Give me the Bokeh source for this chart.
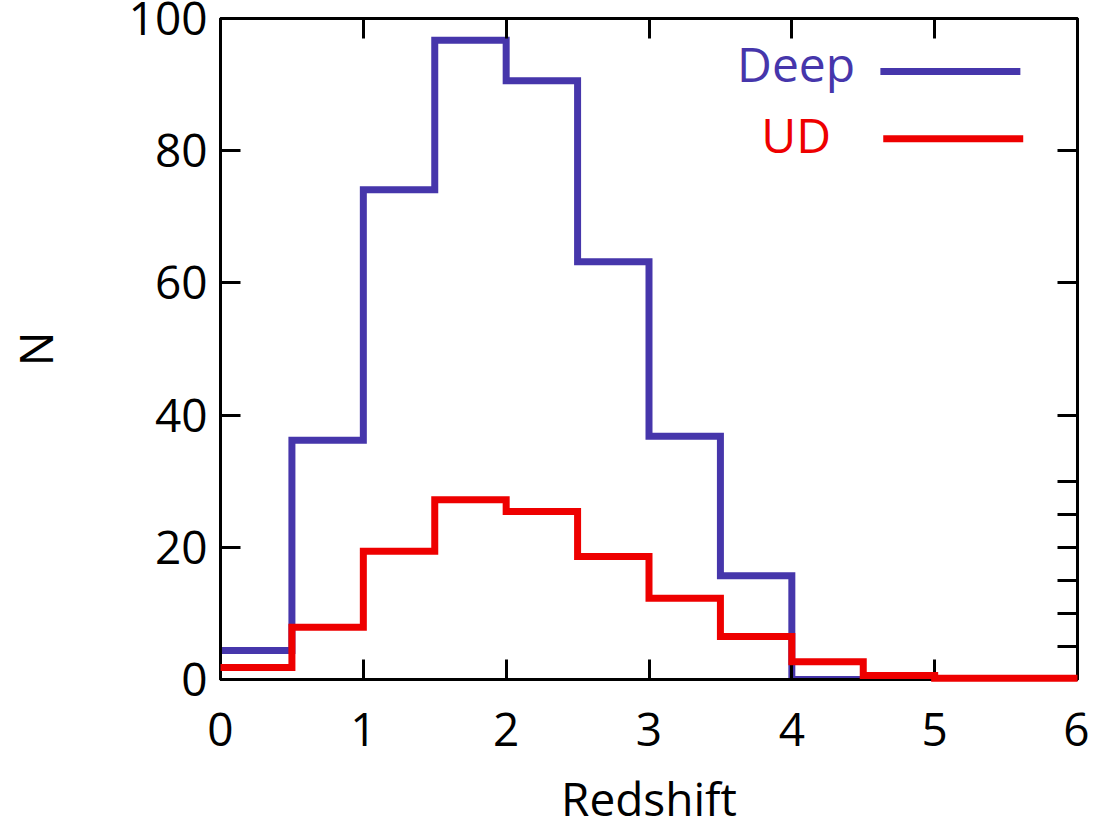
from bokeh.plotting import figure
from bokeh.models import LinearAxis, Range1d, FixedTicker
from bokeh.core.properties import value
from bokeh.embed import file_html
from bokeh.resources import INLINE

# Histogram bin edges (redshift) and counts
bin_edges = [0.0, 0.5, 1.0, 1.5, 2.0, 2.5, 3.0, 3.5, 4.0, 4.5, 5.0, 5.5, 6.0]
deep_counts = [4.4, 36.2, 74.1, 96.7, 90.6, 63.2, 36.8, 15.7, 0.0, 0.0, 0.0, 0.0]
ud_counts = [1.8, 7.9, 19.4, 27.2, 25.4, 18.6, 12.3, 6.5, 2.7, 0.6, 0.2, 0.2]

x_ticks = [0, 1, 2, 3, 4, 5, 6]
y_ticks = [0, 20, 40, 60, 80, 100]
right_ticks = [5, 10, 15, 20, 25, 30, 40, 60, 80]
top_ticks = [1, 2, 3, 4, 5]

BLUE = "#4636ab"
RED = "#ee0000"
FONT = "Open Sans"

p = figure(frame_width=857, frame_height=661,
           min_border_left=220, min_border_right=12,
           min_border_top=18, min_border_bottom=141,
           x_range=Range1d(0, 6), y_range=Range1d(0, 100),
           output_backend="svg", toolbar_location=None,
           background_fill_color="white", border_fill_color="white")
p.grid.visible = False
p.outline_line_color = "black"
p.outline_line_width = 3

def style_axis(ax, labels=True):
    ax.axis_line_width = 3
    ax.axis_line_color = "black"
    ax.major_tick_in = 20
    ax.major_tick_out = 0
    ax.major_tick_line_width = 3
    ax.major_tick_line_color = "black"
    ax.minor_tick_line_color = None
    ax.major_label_text_font = FONT
    ax.major_label_text_font_size = "46px"
    ax.major_label_text_color = "black"
    ax.axis_label_text_font = FONT
    ax.axis_label_text_font_size = "46px"
    ax.axis_label_text_font_style = "normal"
    ax.axis_label_text_color = "black"
    if not labels:
        ax.major_label_text_font_size = "0px"

xa = p.xaxis[0]
xa.ticker = FixedTicker(ticks=x_ticks)
style_axis(xa)
xa.major_label_standoff = 33
xa.axis_label = "Redshift"
xa.axis_label_standoff = 18

ya = p.yaxis[0]
ya.ticker = FixedTicker(ticks=y_ticks)
style_axis(ya)
ya.major_label_standoff = 13
ya.axis_label = "N"
ya.axis_label_text_line_height = 0.75
ya.axis_label_standoff = 60

top = LinearAxis(ticker=FixedTicker(ticks=top_ticks))
style_axis(top, labels=False)
top.major_label_standoff = 0
p.add_layout(top, "above")

right = LinearAxis(ticker=FixedTicker(ticks=right_ticks))
style_axis(right, labels=False)
right.major_label_standoff = 0
p.add_layout(right, "right")

deep_y = deep_counts + [deep_counts[-1]]
ud_y = ud_counts + [ud_counts[-1]]

p.step(x=bin_edges, y=deep_y, mode="after", line_color=BLUE, line_width=7,
       line_join="miter")
r_ud = p.step(x=bin_edges, y=ud_y, mode="after", line_color=RED, line_width=7,
              line_join="miter")
r_ud.level = "overlay"

# Legend (gnuplot style: label then line sample)
p.text(x=[4.03], y=[93.2], text=["Deep"], text_color=BLUE,
       text_font=value(FONT), text_font_size="48px",
       text_align="center", text_baseline="middle")
p.text(x=[4.03], y=[82.4], text=["UD"], text_color=RED,
       text_font=value(FONT), text_font_size="48px",
       text_align="center", text_baseline="middle")
p.segment(x0=[4.62], y0=[92.0], x1=[5.60], y1=[92.0], line_color=BLUE, line_width=7)
p.segment(x0=[4.64], y0=[81.8], x1=[5.62], y1=[81.8], line_color=RED, line_width=7)

open("out.html", "w").write(file_html(p, INLINE))
